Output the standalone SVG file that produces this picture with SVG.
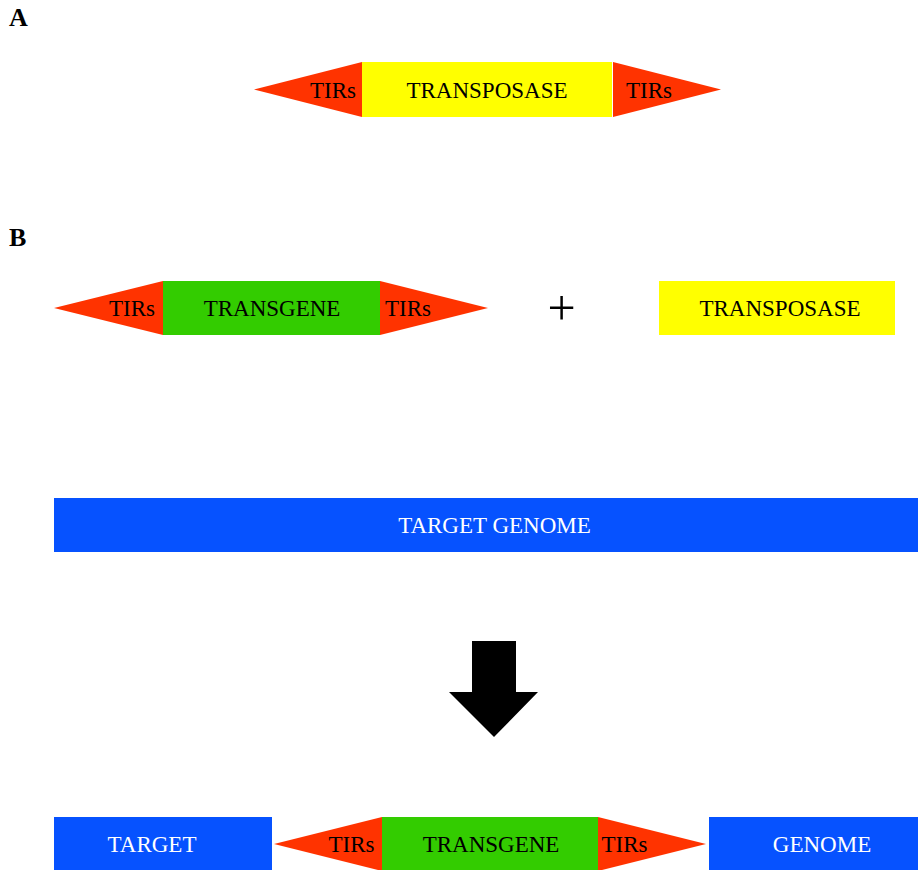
<svg xmlns="http://www.w3.org/2000/svg" width="918" height="870" viewBox="0 0 918 870">
  <style>
    text { font-family: "Liberation Serif", "Times New Roman", serif; font-size: 23px; text-anchor: middle; }
    .lbl { font-weight: bold; font-size: 26px; text-anchor: start; }
    .dark { fill: #000000; }
    .light { fill: #ffffff; }
    .tir { fill: #ff3300; }
    .tpase { fill: #ffff00; }
    .tgene { fill: #33cc00; }
    .genome { fill: #0652ff; }
  </style>

  <rect width="918" height="870" fill="#ffffff"/>

  <!-- Panel labels -->
  <text class="lbl" x="9" y="26">A</text>
  <text class="lbl" x="9" y="246">B</text>

  <!-- Panel A: autonomous transposon -->
  <g id="a-tir-left">
    <polygon class="tir" points="254,89.5 362,62 362,117"/>
    <text class="dark" x="333" y="98">TIRs</text>
  </g>
  <g id="a-transposase">
    <rect class="tpase" x="362" y="62" width="250" height="55"/>
    <text class="dark" x="487" y="98">TRANSPOSASE</text>
  </g>
  <g id="a-tir-right">
    <polygon class="tir" points="613,62 613,117 721,89.5"/>
    <text class="dark" x="649" y="98">TIRs</text>
  </g>

  <!-- Panel B: transgene construct + transposase source -->
  <g id="b-tir-left">
    <polygon class="tir" points="54,308 163,281 163,335"/>
    <text class="dark" x="132" y="316">TIRs</text>
  </g>
  <g id="b-transgene">
    <rect class="tgene" x="163" y="281" width="217" height="54"/>
    <text class="dark" x="272" y="316">TRANSGENE</text>
  </g>
  <g id="b-tir-right">
    <polygon class="tir" points="380,281 380,335 488,308"/>
    <text class="dark" x="408" y="316">TIRs</text>
  </g>
  <g id="plus">
    <text class="dark" x="561.5" y="324.5" style="font-size:50px">+</text>
  </g>
  <g id="b-transposase">
    <rect class="tpase" x="659" y="281" width="236" height="54"/>
    <text class="dark" x="780" y="316">TRANSPOSASE</text>
  </g>

  <g id="target-genome">
    <rect class="genome" x="54" y="498" width="864" height="54"/>
    <text class="light" x="494.5" y="533">TARGET GENOME</text>
  </g>

  <!-- Integration step -->
  <g id="connectors">
    <polygon fill="#000000" points="472,641 516,641 516,692 538,692 494,737 449,692 472,692"/>
  </g>

  <!-- Result: transgene integrated into the genome -->
  <g id="r-target">
    <rect class="genome" x="54" y="817" width="218" height="54"/>
    <text class="light" x="152" y="852">TARGET</text>
  </g>
  <g id="r-tir-left">
    <polygon class="tir" points="274,844 382,817 382,871"/>
    <text class="dark" x="351.5" y="852">TIRs</text>
  </g>
  <g id="r-transgene">
    <rect class="tgene" x="382" y="817" width="216" height="54"/>
    <text class="dark" x="491" y="852">TRANSGENE</text>
  </g>
  <g id="r-tir-right">
    <polygon class="tir" points="598,817 598,871 706,844"/>
    <text class="dark" x="624.5" y="852">TIRs</text>
  </g>
  <g id="r-genome">
    <rect class="genome" x="709" y="817" width="209" height="54"/>
    <text class="light" x="822" y="852">GENOME</text>
  </g>
</svg>
